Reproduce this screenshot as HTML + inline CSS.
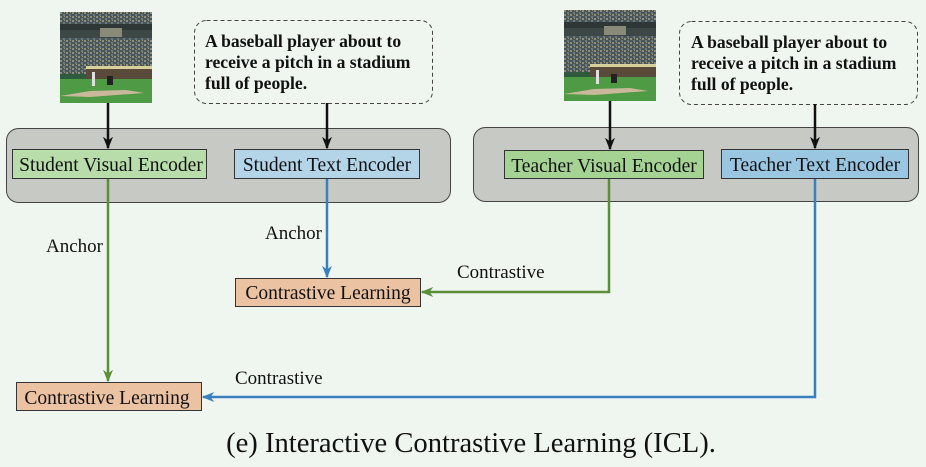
<!DOCTYPE html>
<html><head><style>
body{margin:0;background:#eff6ef;}
svg{display:block;}
text{font-family:"Liberation Serif",serif;}
</style></head><body>
<svg width="926" height="467" viewBox="0 0 926 467" xmlns="http://www.w3.org/2000/svg">
<defs>
<pattern id="crowd" width="6" height="4" patternUnits="userSpaceOnUse">
<rect width="6" height="4" fill="#4a5654"/>
<rect x="0" y="0" width="2" height="2" fill="#8a9088"/>
<rect x="3" y="2" width="2" height="2" fill="#6a7a8a"/>
<rect x="4" y="0" width="1" height="1" fill="#a09070"/>
</pattern>
<g id="img">
<rect x="0" y="0" width="92" height="91" fill="url(#crowd)"/>
<rect x="0" y="12" width="92" height="6" fill="#2e3636"/>
<rect x="0" y="18" width="92" height="8" fill="#3d4846"/>
<rect x="40" y="16" width="22" height="9" fill="#8a8a78"/>
<rect x="26" y="54" width="66" height="3" fill="#d8d09a"/>
<rect x="26" y="57" width="66" height="10" fill="#5a4a3a"/>
<rect x="0" y="62" width="26" height="6" fill="#2e5a3e"/>
<rect x="0" y="67" width="92" height="24" fill="#4f9a45"/>
<path d="M0 84 L30 79 L66 78 L84 81 L30 85 Z" fill="#c9b89a"/>
<rect x="32" y="60" width="3" height="14" fill="#e0e0e0"/>
<rect x="47" y="64" width="6" height="9" fill="#222"/>
</g>
<marker id="ak" viewBox="0 0 10 10" refX="9" refY="5" markerWidth="5" markerHeight="5" orient="auto"><path d="M0 1 L10 5 L0 9 L3 5Z" fill="#111"/></marker>
<marker id="ag" viewBox="0 0 10 10" refX="9" refY="5" markerWidth="5" markerHeight="5" orient="auto"><path d="M0 1 L10 5 L0 9 L3 5Z" fill="#5a8f3a"/></marker>
<marker id="ab" viewBox="0 0 10 10" refX="9" refY="5" markerWidth="5" markerHeight="5" orient="auto"><path d="M0 1 L10 5 L0 9 L3 5Z" fill="#3a80c0"/></marker>
</defs>

<rect x="6.5" y="128.5" width="444" height="74" rx="12" fill="#c6c9c4" stroke="#444" stroke-width="1"/>
<rect x="473.5" y="127.5" width="445" height="74" rx="12" fill="#c6c9c4" stroke="#444" stroke-width="1"/>

<use href="#img" x="60" y="12"/>
<use href="#img" x="564" y="10"/>

<rect x="194.5" y="20.5" width="238" height="83" rx="12" fill="none" stroke="#444" stroke-dasharray="4,3"/>
<text font-weight="bold" font-size="17.6" fill="#111"><tspan x="205" y="47">A baseball player about to</tspan><tspan x="205" y="68">receive a pitch in a stadium</tspan><tspan x="205" y="89">full of people.</tspan></text>
<rect x="679.5" y="21.5" width="238" height="83" rx="12" fill="none" stroke="#444" stroke-dasharray="4,3"/>
<text font-weight="bold" font-size="17.6" fill="#111"><tspan x="691" y="48">A baseball player about to</tspan><tspan x="691" y="69">receive a pitch in a stadium</tspan><tspan x="691" y="90">full of people.</tspan></text>

<line x1="108" y1="103" x2="108" y2="148" stroke="#111" stroke-width="2.5" marker-end="url(#ak)"/>
<line x1="327" y1="103" x2="327" y2="148" stroke="#111" stroke-width="2.5" marker-end="url(#ak)"/>
<line x1="610" y1="101" x2="610" y2="149" stroke="#111" stroke-width="2.5" marker-end="url(#ak)"/>
<line x1="815" y1="104" x2="815" y2="148" stroke="#111" stroke-width="2.5" marker-end="url(#ak)"/>

<rect x="12.5" y="149.5" width="194" height="29" fill="#b8dcaa" stroke="#333"/>
<text x="111" y="171" font-size="19.5" text-anchor="middle" fill="#111">Student Visual Encoder</text>
<rect x="234.5" y="149.5" width="185" height="29" fill="#b4d4e8" stroke="#333"/>
<text x="327" y="171" font-size="19.5" text-anchor="middle" fill="#111">Student Text Encoder</text>
<rect x="504.5" y="150.5" width="199" height="28" fill="#a5d394" stroke="#333"/>
<text x="604" y="172" font-size="19.5" text-anchor="middle" fill="#111">Teacher Visual Encoder</text>
<rect x="721.5" y="149.5" width="187" height="29" fill="#9bc6e2" stroke="#333"/>
<text x="815" y="171" font-size="19.5" text-anchor="middle" fill="#111">Teacher Text Encoder</text>

<line x1="108" y1="179" x2="108" y2="381" stroke="#5a8f3a" stroke-width="2.5" marker-end="url(#ag)"/>
<line x1="327" y1="179" x2="327" y2="277" stroke="#3a80c0" stroke-width="2.5" marker-end="url(#ab)"/>
<polyline points="609,179 609,292 422,292" fill="none" stroke="#5a8f3a" stroke-width="2.5" marker-end="url(#ag)"/>
<polyline points="815,179 815,397 203,397" fill="none" stroke="#3a80c0" stroke-width="2.5" marker-end="url(#ab)"/>

<text x="46" y="252" font-size="19" fill="#111">Anchor</text>
<text x="265" y="239" font-size="19" fill="#111">Anchor</text>
<text x="457" y="278" font-size="19" fill="#111">Contrastive</text>
<text x="235" y="384" font-size="19" fill="#111">Contrastive</text>

<rect x="235.5" y="278.5" width="185" height="28" fill="#ecc3a2" stroke="#333"/>
<text x="328" y="299" font-size="19.5" text-anchor="middle" fill="#111">Contrastive Learning</text>
<rect x="16.5" y="382.5" width="185" height="28" fill="#ecc3a2" stroke="#333"/>
<text x="107" y="404" font-size="19.5" text-anchor="middle" fill="#111">Contrastive Learning</text>

<text x="471" y="452" font-size="28.6" text-anchor="middle" fill="#111">(e) Interactive Contrastive Learning (ICL).</text>
</svg>
</body></html>
